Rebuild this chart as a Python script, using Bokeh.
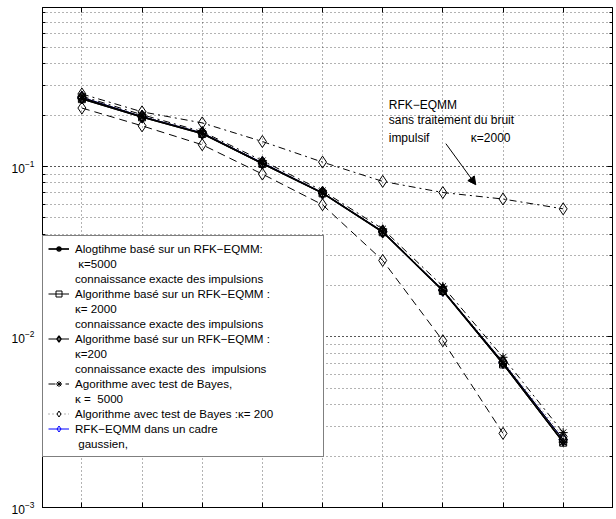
from bokeh.plotting import figure
from bokeh.models import (Legend, LegendItem, LinearAxis, LogAxis, Label, Arrow,
                          NormalHead, FixedTicker, LogTicker, Range1d,
                          CustomJSTickFormatter)
from bokeh.embed import file_html
from bokeh.resources import INLINE

# ---------------- data ----------------
snr_db = [-2, 0, 2, 4, 6, 8, 10, 12, 14]
x_ticks = [-2, 0, 2, 4, 6, 8, 10, 12, 14]

exact_k5000 = [0.250, 0.195, 0.156, 0.104, 0.0698, 0.0413, 0.0187, 0.0070, 0.00242]
exact_k2000 = [0.248, 0.194, 0.155, 0.1035, 0.0695, 0.0411, 0.0186, 0.0069, 0.00240]
exact_k200 = [0.254, 0.196, 0.157, 0.105, 0.0700, 0.0415, 0.0188, 0.0071, 0.00250]
bayes_k5000 = [0.258, 0.201, 0.160, 0.108, 0.0720, 0.0430, 0.0198, 0.0076, 0.00275]
bayes_k200 = [0.252, 0.197, 0.158, 0.105, 0.0705, 0.0418, 0.0190, 0.0072, 0.00260]
gaussien = exact_k200
snr_low = [-2, 0, 2, 4, 6, 8, 10, 12]
lower_dashed = [0.220, 0.173, 0.134, 0.0902, 0.0596, 0.0281, 0.0095, 0.00272]
sans_traitement_k2000 = [0.266, 0.209, 0.180, 0.140, 0.106, 0.0817, 0.0703, 0.0644, 0.0564]

legend_lines = [
    "Alogtihme basé sur un RFK−EQMM:", " κ=5000", "connaissance exacte des impulsions",
    "Algorithme basé sur un RFK−EQMM :", "κ= 2000", "connaissance exacte des impulsions",
    "Algorithme basé sur un RFK−EQMM :", "κ=200", "connaissance exacte des  impulsions",
    "Agorithme avec test de Bayes,", "κ =  5000",
    "Algorithme avec test de Bayes :κ= 200",
    "RFK−EQMM dans un cadre", " gaussien,",
]
annot_lines = ["RFK−EQMM", "sans traitement du bruit", "impulsif"]
annot_kappa = "κ=2000"

FONT = "Liberation Sans"
FS = "11.6px"

p = figure(width=616, height=519,
           x_range=Range1d(-3.31, 15.64), y_range=Range1d(1e-3, 0.855),
           y_axis_type="log", output_backend="svg", toolbar_location=None,
           min_border_left=42, min_border_right=4, min_border_top=7,
           min_border_bottom=12)
p.background_fill_color = "white"
p.border_fill_color = "white"
p.outline_line_color = "black"
p.outline_line_width = 1

no_label = CustomJSTickFormatter(code="return ''")


def style_axis(ax):
    ax.axis_line_color = "black"
    ax.axis_line_width = 1
    ax.major_tick_in = 5
    ax.major_tick_out = 0
    ax.minor_tick_in = 3
    ax.minor_tick_out = 0
    ax.major_tick_line_color = "black"
    ax.minor_tick_line_color = "black"


xt = FixedTicker(ticks=x_ticks)
yt = LogTicker(mantissas=[1], num_minor_ticks=10)

style_axis(p.xaxis[0])
p.xaxis.ticker = xt
p.xaxis.minor_tick_line_color = None
p.xaxis.formatter = no_label
p.xaxis.major_label_standoff = 0

style_axis(p.yaxis[0])
p.yaxis.ticker = yt
p.yaxis.major_label_text_font = FONT
p.yaxis.major_label_text_font_size = "12px"
p.yaxis.major_label_text_color = "black"
p.yaxis.major_label_standoff = 8

top_ax = LinearAxis(ticker=xt, formatter=no_label, major_label_standoff=0)
style_axis(top_ax)
top_ax.minor_tick_line_color = None
p.add_layout(top_ax, "above")

right_ax = LogAxis(ticker=yt, formatter=no_label, major_label_standoff=0)
style_axis(right_ax)
p.add_layout(right_ax, "right")

p.xgrid.ticker = xt
p.ygrid.ticker = yt
for g in (p.xgrid, p.ygrid):
    g.grid_line_color = "black"
    g.grid_line_alpha = 0.6
    g.grid_line_dash = "1 3"
p.ygrid.minor_grid_line_color = "black"
p.ygrid.minor_grid_line_alpha = 0.6
p.ygrid.minor_grid_line_dash = "1 3"

# ---------------- series ----------------
DSZ = 12
rF_l = p.line(snr_db, gaussien, line_color="blue", line_width=1)
rF_m = p.scatter(snr_db, gaussien, marker="diamond", size=DSZ, fill_color=None,
                 line_color="blue", line_width=1)

p.line(snr_low, lower_dashed, line_color="black", line_width=1, line_dash="8 5")
p.scatter(snr_low, lower_dashed, marker="diamond", size=DSZ, fill_color=None,
          line_color="black", line_width=1)

p.line(snr_db, sans_traitement_k2000, line_color="black", line_width=1, line_dash="7 4 2 4")
p.scatter(snr_db, sans_traitement_k2000, marker="diamond", size=DSZ, fill_color=None,
          line_color="black", line_width=1)

rD_l = p.line(snr_db, bayes_k5000, line_color="black", line_width=1, line_dash="7 4 2 4")
rD_m = p.scatter(snr_db, bayes_k5000, marker="asterisk", size=9, line_color="black",
                 line_width=1)

rE_l = p.line(snr_db, bayes_k200, line_color="black", line_width=1, line_dash="1 3",
              line_alpha=0.6)
rE_m = p.scatter(snr_db, bayes_k200, marker="diamond", size=DSZ, fill_color=None,
                 line_color="black", line_width=1)

rC_l = p.line(snr_db, exact_k200, line_color="black", line_width=1)
rC_m = p.scatter(snr_db, exact_k200, marker="diamond", size=DSZ, fill_color=None,
                 line_color="black", line_width=1.4)

rB_l = p.line(snr_db, exact_k2000, line_color="black", line_width=1)
rB_m = p.scatter(snr_db, exact_k2000, marker="square", size=7, fill_color=None,
                 line_color="black", line_width=1)

rA_l = p.line(snr_db, exact_k5000, line_color="black", line_width=1.7)
rA_m = p.scatter(snr_db, exact_k5000, marker="asterisk", size=9, line_color="black",
                 line_width=1.3)

blank = p.line(x=[-2], y=[0.25], line_alpha=0)

groups = [[rA_l, rA_m], [blank], [blank],
          [rB_l, rB_m], [blank], [blank],
          [rC_l, rC_m], [blank], [blank],
          [rD_l, rD_m], [blank],
          [rE_l, rE_m],
          [rF_l, rF_m], [blank]]
items = [LegendItem(label=t, renderers=r) for t, r in zip(legend_lines, groups)]
legend = Legend(items=items, location=(0, 50), padding=5, spacing=0,
                label_height=15, glyph_height=15, glyph_width=21, label_standoff=6,
                label_width=243, margin=0, border_line_color="black",
                border_line_width=1.5, background_fill_color="white",
                background_fill_alpha=1, label_text_font=FONT,
                label_text_font_size=FS, label_text_color="black")
p.add_layout(legend)

# ---------------- annotation ----------------
for txt, yv in zip(annot_lines, [0.2306, 0.1863, 0.1468]):
    p.add_layout(Label(x=8.20, y=yv, text=txt, text_baseline="middle",
                       text_font=FONT, text_font_size="12px", text_color="black"))
p.add_layout(Label(x=10.93, y=0.1468, text=annot_kappa, text_baseline="middle",
                   text_font=FONT, text_font_size="12px", text_color="black"))
p.add_layout(Arrow(end=NormalHead(size=8, fill_color="black", line_color="black"),
                   x_start=10.10, y_start=0.136, x_end=11.095, y_end=0.0781,
                   line_color="black", line_width=1))

open("out.html", "w").write(file_html(p, INLINE))
